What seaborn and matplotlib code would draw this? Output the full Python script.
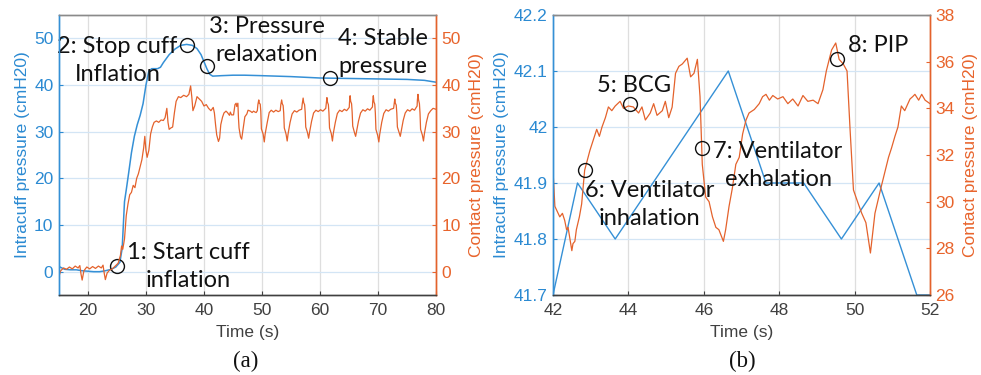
import numpy as np
import pandas as pd
import seaborn as sns
import matplotlib.pyplot as plt

# ---------------- data: panel (a) ----------------
time_a_cuff = [15, 15.5, 16, 17, 18, 19, 20, 21, 22, 23, 24, 24.8, 25.5, 25.9, 26.3, 26.6,
               27.0, 27.5, 28.0, 28.5, 29.0, 29.5, 30.0, 30.5, 31.0, 32.0, 32.5, 33.0, 34.0,
               35.0, 36.0, 37.0, 38.0, 38.8, 39.5, 40.0, 40.5, 41.0, 41.5, 43, 45, 47, 50,
               55, 60, 65, 70, 75, 78, 80]
intracuff_a = [1.1, 0.8, 0.5, 0.4, 0.4, 0.2, 0.1, 0.0, 0.0, 0.2, 0.5, 1.0, 2.0, 5.0, 15.0, 17.5,
               21.0, 25.5, 29.0, 31.5, 33.5, 36.0, 40.0, 43.0, 43.5, 43.5, 43.8, 44.8, 46.5,
               47.7, 48.5, 48.7, 48.5, 47.8, 46.5, 45.0, 43.5, 42.3, 41.9, 42.0, 42.1, 42.1, 42.0,
               41.8, 41.5, 41.4, 41.3, 41.2, 41.0, 40.6]

time_a_contact = [
    15.0, 15.3, 15.8, 16.3, 16.8, 17.3, 17.8, 18.3, 18.6, 18.8, 19.0, 19.3, 19.8, 20.3, 20.8,
    21.3, 21.8, 22.3, 22.6, 22.8, 23.0, 23.3, 23.7, 24.2, 24.7, 25.2, 25.6, 25.8, 26.0,
    26.3, 26.6, 26.9, 27.2, 27.5, 27.8, 28.1, 28.4, 28.7, 29.0, 29.3, 29.6, 29.8, 30.0, 30.2,
    30.5, 30.8, 31.1, 31.4, 31.8, 32.2, 32.6, 33.0, 33.3, 33.6, 33.8, 34.0, 34.3, 34.6, 34.9,
    35.2, 35.6, 36.0, 36.5, 37.0, 37.4, 37.7, 37.9, 38.1, 38.4, 38.8, 39.2, 39.6, 40.0, 40.4,
    40.8, 41.2, 41.6, 41.8, 42.0,
    42.2, 42.5, 42.7, 42.9, 43.2, 43.45, 43.8, 44.05, 44.4, 44.55, 44.75, 45.1, 45.25, 45.35,
    45.55, 45.65, 45.85, 45.95, 46.05, 46.3, 46.5, 46.75, 47.05, 47.4, 47.6, 48.0, 48.3,
    48.55, 48.8, 49.0, 49.2, 49.3, 49.45, 49.55, 49.7, 49.8, 49.9, 50.2, 50.4, 50.55, 50.9,
    51.25, 51.6, 52.0,
    52.4, 52.8, 53.15, 53.25, 53.4, 53.5, 53.65, 53.75, 53.85, 54.15, 54.35, 54.5, 54.85,
    55.2, 55.6, 56.0, 56.4, 56.85, 56.95, 57.1, 57.2, 57.35, 57.45, 57.55, 57.85, 58.05,
    58.2, 58.55, 58.9, 59.3, 59.7, 60.1, 60.5, 61.0, 61.1, 61.2, 61.3, 61.45, 61.55, 61.65,
    61.95, 62.15, 62.3, 62.65, 63.0, 63.4, 63.8, 64.2, 64.6, 65.05, 65.1, 65.2, 65.3, 65.45,
    65.55, 65.65, 65.95, 66.15, 66.3, 66.65, 67.0, 67.4, 67.8, 68.2, 68.6, 69.05, 69.1, 69.2,
    69.3, 69.45, 69.55, 69.65, 69.95, 70.15, 70.3, 70.65, 71.0, 71.4, 71.8, 72.2, 72.7,
    72.8, 72.9, 73.0, 73.15, 73.25, 73.35, 73.65, 73.85, 74.0, 74.35, 74.7, 75.1, 75.5,
    75.9, 76.3, 76.75, 76.8, 76.9, 77.0, 77.15, 77.25, 77.35, 77.65, 77.85, 78.0, 78.35,
    78.7, 79.1, 79.5, 80.0]
contact_a = [
    -1.0, 0.2, 0.8, 0.5, 1.0, 0.6, 1.2, 0.8, 1.3, -0.5, -1.8, 0.2, 1.0, 0.6, 1.1,
    0.7, 1.2, 0.8, 1.4, -0.3, -1.7, -0.3, 0.3, 0.6, 1.2, 1.8, 3.5, 5.5, 4.8,
    7.0, 12.0, 14.5, 16.5, 17.0, 18.5, 18.0, 20.0, 21.0, 22.5, 24.0, 26.5, 29.0, 26.0, 24.5,
    26.0, 29.5, 31.0, 32.0, 32.3, 32.0, 32.5, 32.4, 33.0, 35.0, 32.0, 30.5, 30.8, 31.0, 34.0,
    36.5, 37.5, 37.3, 37.8, 37.5, 38.0, 39.8, 37.5, 34.5, 35.5, 37.5, 37.0, 36.5, 35.5, 35.8,
    35.0, 34.5, 35.2, 34.0, 31.5,
    29.3, 27.9, 28.6, 31.5, 33.1, 34.0, 34.4, 34.1, 33.5, 34.2, 33.6, 33.6, 34.9, 35.8,
    36.1, 35.4, 36.1, 32.9, 30.8, 28.9, 28.4, 30.6, 33.2, 33.8, 34.6, 34.4, 34.1,
    34.4, 34.2, 34.1, 34.5, 35.8, 36.8, 36.1, 35.9, 34.4, 30.6, 29.5, 27.8, 29.5, 31.9,
    34.1, 34.6, 34.2,
    34.6, 34.3, 34.5, 35.8, 36.8, 36.0, 35.6, 34.0, 30.8, 29.5, 28.0, 29.5, 32.0,
    33.8, 34.5, 34.2, 34.6, 34.8, 36.0, 37.2, 36.2, 35.8, 34.2, 31.0, 29.8, 28.6,
    29.8, 32.2, 34.0, 34.6, 34.3, 34.7, 34.4, 35.0, 36.2, 37.3, 36.3, 35.8, 34.0, 30.8,
    29.6, 28.0, 29.6, 32.0, 33.9, 34.6, 34.3, 34.8, 34.5, 35.2, 36.4, 37.7, 36.5, 36.0,
    34.2, 31.2, 29.8, 29.0, 30.0, 32.3, 34.0, 34.7, 34.4, 34.9, 34.6, 35.3, 36.5, 37.7,
    36.4, 35.9, 34.0, 30.5, 29.2, 27.8, 29.4, 32.0, 33.9, 34.7, 34.4, 34.8, 35.0,
    36.0, 37.0, 36.1, 35.7, 34.0, 31.0, 29.8, 29.0, 30.0, 32.4, 34.0, 34.7, 34.4,
    34.9, 34.6, 35.5, 36.8, 38.0, 36.8, 36.0, 34.0, 30.5, 29.3, 28.0, 29.5, 32.0,
    33.8, 34.5, 35.0, 34.8]

# ---------------- data: panel (b) ----------------
time_b_cuff = [42.0, 42.65, 43.65, 44.65, 45.65, 46.65, 47.65, 48.65, 49.65, 50.65, 51.65, 52.0]
intracuff_b = [41.7, 41.9, 41.8, 41.9, 42.0, 42.1, 41.9, 41.9, 41.8, 41.9, 41.7, 41.7]

time_b_contact = [
    42.0, 42.05, 42.18, 42.25, 42.31, 42.36, 42.4, 42.5, 42.53, 42.58, 42.62, 42.7, 42.76,
    42.84, 42.98, 43.07, 43.16, 43.23, 43.3, 43.39, 43.47, 43.56, 43.65, 43.78, 43.87, 44.0,
    44.13, 44.27, 44.36, 44.45, 44.58, 44.67, 44.76, 44.9, 44.98, 45.07, 45.16, 45.25, 45.34,
    45.43, 45.56, 45.65, 45.74, 45.83, 45.9, 45.96, 46.05, 46.14, 46.23, 46.32, 46.4, 46.52,
    46.58, 46.67, 46.76, 46.85, 46.94, 47.03, 47.12, 47.2, 47.34, 47.47, 47.56, 47.65, 47.74,
    47.83, 47.96, 48.1, 48.23, 48.36, 48.5, 48.63, 48.76, 48.9, 49.03, 49.16, 49.25, 49.39,
    49.5, 49.59, 49.7, 49.8, 49.88, 49.97, 50.1, 50.19, 50.3, 50.42, 50.54, 50.7, 50.9,
    50.98, 51.07, 51.15, 51.24, 51.33, 51.47, 51.54, 51.6, 51.7, 51.78, 51.87, 52.0]
contact_b = [
    31.35, 29.8, 29.35, 29.5, 29.2, 28.8, 28.9, 27.9, 28.2, 28.3, 28.8, 29.35, 29.9,
    31.35, 32.2, 32.65, 33.1, 32.8, 33.2, 33.6, 34.06, 33.9, 34.1, 34.3, 34.0, 34.1,
    34.06, 33.8, 34.06, 33.5, 33.8, 34.2, 33.7, 33.9, 34.3, 33.6, 34.05, 35.5, 35.8,
    35.9, 36.15, 35.35, 35.5, 36.1, 34.5, 31.6, 30.2, 30.0, 29.35, 28.9, 28.8, 28.3,
    28.8, 29.8, 30.6, 31.6, 31.9, 32.9, 33.5, 33.8, 33.95, 34.2, 34.5, 34.6, 34.35,
    34.55, 34.4, 34.5, 34.2, 34.4, 34.1, 34.55, 34.3, 34.35, 34.2, 34.8, 35.6, 36.5,
    36.8, 36.1, 35.9, 35.6, 33.1, 30.5, 29.9, 29.5, 29.1, 27.8, 29.5, 30.6, 31.9,
    32.3, 32.8, 33.2, 34.1, 33.9, 34.4, 34.5, 34.6, 34.35, 34.6, 34.35, 34.2]

# annotation points: (x, y) on the intracuff (left) axis
marks_a = [(25.0, 1.2), (37.0, 48.6), (40.5, 44.1), (61.7, 41.6)]
labels_a = ["1: Start cuff\ninflation", "2: Stop cuff\nInflation",
            "3: Pressure\nrelaxation", "4: Stable\npressure"]
marks_b = [(44.05, 42.041), (42.86, 41.923), (45.96, 41.962), (49.54, 42.121)]
labels_b = ["5: BCG", "6: Ventilator\ninhalation", "7: Ventilator\nexhalation", "8: PIP"]

# ---------------- styling ----------------
sns.set_theme(style="white")
plt.rcParams['font.family'] = ['Liberation Sans', 'DejaVu Sans']

BLUE = '#3590D6'
ORANGE = '#E4622C'
TICKBLUE = '#2B8AD2'
TICKORANGE = '#E8642C'
GRAY = '#404040'
FS = 12.5

fig = plt.figure(figsize=(9.81, 3.75), dpi=100)
axA = fig.add_axes([0.0601, 0.2133, 0.3843, 0.7467])
axB = fig.add_axes([0.5637, 0.2133, 0.3843, 0.7467])
axA2 = axA.twinx()
axB2 = axB.twinx()

dfa_c = pd.DataFrame({'t': time_a_cuff, 'p': intracuff_a})
dfa_k = pd.DataFrame({'t': time_a_contact, 'p': contact_a})
dfb_c = pd.DataFrame({'t': time_b_cuff, 'p': intracuff_b})
dfb_k = pd.DataFrame({'t': time_b_contact, 'p': contact_b})

sns.lineplot(data=dfa_c, x='t', y='p', ax=axA, color=BLUE, lw=1.1, estimator=None, sort=False)
sns.lineplot(data=dfa_k, x='t', y='p', ax=axA2, color=ORANGE, lw=0.9, estimator=None, sort=False)
sns.lineplot(data=dfb_c, x='t', y='p', ax=axB, color=BLUE, lw=1.0, estimator=None, sort=False)
sns.lineplot(data=dfb_k, x='t', y='p', ax=axB2, color=ORANGE, lw=0.9, estimator=None, sort=False)


def style(ax, ax2, xlim, xticks, ylim, yticks, ylim2, yticks2, ytl=None, ytl2=None):
    ax.set_xlim(*xlim)
    ax.set_xticks(xticks)
    ax.set_ylim(*ylim)
    ax.set_yticks(yticks)
    if ytl is not None:
        ax.set_yticklabels(ytl)
    ax2.set_ylim(*ylim2)
    ax2.set_yticks(yticks2)
    if ytl2 is not None:
        ax2.set_yticklabels(ytl2)
    ax.yaxis.grid(True, color='#d3e5f5', lw=0.9)
    ax.xaxis.grid(True, color='#dedede', lw=0.9)
    ax.set_axisbelow(True)
    ax.set_xlabel('Time (s)', fontsize=FS, color=GRAY, labelpad=5)
    ax.set_ylabel('Intracuff pressure (cmH20)', fontsize=FS, color=TICKBLUE, labelpad=3)
    ax2.set_ylabel('Contact pressure (cmH20)', fontsize=FS, color=TICKORANGE, labelpad=6)
    ax.tick_params(axis='x', direction='in', length=3, width=0.8, colors=GRAY,
                   labelsize=FS, pad=6, bottom=True)
    ax.tick_params(axis='y', direction='in', length=3, width=0.8, colors=TICKBLUE,
                   labelsize=FS, pad=4, left=True)
    ax2.tick_params(axis='y', direction='in', length=3, width=0.8, colors=TICKORANGE,
                    labelsize=FS, pad=4, right=True)
    for a in (ax, ax2):
        a.spines['top'].set_color('#8a8a8a')
        a.spines['bottom'].set_color(GRAY)
        a.spines['left'].set_color(BLUE)
        a.spines['right'].set_color(ORANGE)
        for s in a.spines.values():
            s.set_linewidth(1.0)
    ax2.set_xlabel('')


style(axA, axA2, (15, 80), [20, 30, 40, 50, 60, 70, 80], (-5, 55), [0, 10, 20, 30, 40, 50],
      (-5, 55), [0, 10, 20, 30, 40, 50])
style(axB, axB2, (42, 52), [42, 44, 46, 48, 50, 52], (41.7, 42.2),
      [41.7, 41.8, 41.9, 42.0, 42.1, 42.2], (26, 38), [26, 28, 30, 32, 34, 36, 38],
      ytl=['41.7', '41.8', '41.9', '42', '42.1', '42.2'])

ann_font = dict(family=['Lato', 'DejaVu Sans'], fontsize=17, color='#111111',
                ha='center', va='center', linespacing=1.42, multialignment='center')

# panel (a) annotations
for (x, y) in marks_a:
    axA.plot([x], [y], marker='o', ms=10, mfc='none', mec='#111111', mew=1.0, zorder=6)
text_pos_a = [(37.3, 1.15), (25.1, 45.2), (50.8, 49.5), (70.9, 46.9)]
for (tx, ty), lab in zip(text_pos_a, labels_a):
    axA.text(tx, ty, lab, zorder=7, **ann_font)

# panel (b) annotations
for (x, y) in marks_b:
    axB2.plot([x], [38 - (42.2 - y) * 24], marker='o', ms=10, mfc='none',
              mec='#111111', mew=1.0, zorder=6)
text_pos_b = [(44.14, 42.075), (44.57, 41.862), (47.97, 41.932), (50.63, 42.146)]
for (tx, ty), lab in zip(text_pos_b, labels_b):
    axB2.text(tx, 38 - (42.2 - ty) * 24, lab, zorder=7, **ann_font)

fig.text(0.25, 0.036, '(a)', family=['Liberation Serif'], fontsize=16.5, ha='center', va='center',
         color='#111111')
fig.text(0.757, 0.036, '(b)', family=['Liberation Serif'], fontsize=16.5, ha='center', va='center',
         color='#111111')

fig.savefig('out.png', dpi=100)
